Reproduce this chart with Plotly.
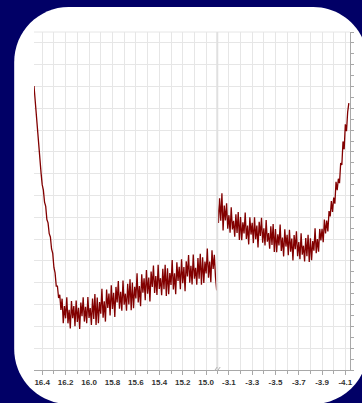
import plotly.graph_objects as go

# ---------------- data ----------------
left_x = [16.47, 16.46, 16.45, 16.44, 16.43, 16.42, 16.41, 16.40, 16.39, 16.38,
          16.37, 16.36, 16.35, 16.34, 16.33, 16.32, 16.31, 16.30, 16.29, 16.28,
          16.27, 16.26, 16.25, 16.24, 16.23, 16.22, 16.21, 16.20, 16.19, 16.18,
          16.17, 16.16, 16.15, 16.14, 16.13, 16.12, 16.11, 16.10, 16.09, 16.08,
          16.07, 16.06, 16.05, 16.04, 16.03, 16.02, 16.01, 16.00, 15.99, 15.98,
          15.97, 15.96, 15.95, 15.94, 15.93, 15.92, 15.91, 15.90, 15.89, 15.88,
          15.87, 15.86, 15.85, 15.84, 15.83, 15.82, 15.81, 15.80, 15.79, 15.78,
          15.77, 15.76, 15.75, 15.74, 15.73, 15.72, 15.71, 15.70, 15.69, 15.68,
          15.67, 15.66, 15.65, 15.64, 15.63, 15.62, 15.61, 15.60, 15.59, 15.58,
          15.57, 15.56, 15.55, 15.54, 15.53, 15.52, 15.51, 15.50, 15.49, 15.48,
          15.47, 15.46, 15.45, 15.44, 15.43, 15.42, 15.41, 15.40, 15.39, 15.38,
          15.37, 15.36, 15.35, 15.34, 15.33, 15.32, 15.31, 15.30, 15.29, 15.28,
          15.27, 15.26, 15.25, 15.24, 15.23, 15.22, 15.21, 15.20, 15.19, 15.18,
          15.17, 15.16, 15.15, 15.14, 15.13, 15.12, 15.11, 15.10, 15.09, 15.08,
          15.07, 15.06, 15.05, 15.04, 15.03, 15.02, 15.01, 15.00, 14.99, 14.98,
          14.97, 14.96, 14.95, 14.94, 14.93, 14.92, 14.91]
left_y = [13.02, 12.30, 11.75, 10.95, 10.40, 9.55, 9.05, 8.50, 8.25, 7.70,
          7.50, 6.90, 6.75, 6.25, 6.10, 5.55, 5.35, 4.70, 4.45, 3.85,
          3.85, 3.30, 3.45, 2.75, 3.27, 2.15, 2.93, 2.37, 3.34, 2.14,
          2.76, 1.91, 3.16, 2.38, 2.93, 2.01, 3.19, 2.20, 2.85, 1.88,
          3.09, 2.47, 3.33, 2.22, 2.90, 2.15, 3.35, 2.39, 2.84, 2.06,
          3.28, 2.34, 3.48, 2.06, 3.32, 2.14, 3.12, 2.58, 3.73, 2.40,
          3.15, 2.22, 3.69, 2.84, 3.51, 2.50, 3.89, 2.80, 3.54, 2.43,
          3.81, 3.10, 4.08, 2.81, 3.59, 2.72, 4.10, 2.99, 3.50, 2.72,
          3.95, 3.01, 4.16, 2.74, 4.01, 2.83, 3.82, 3.28, 4.43, 3.10,
          3.85, 2.92, 4.39, 3.54, 4.21, 3.20, 4.59, 3.50, 4.24, 3.14,
          4.51, 3.81, 4.79, 3.53, 4.31, 3.44, 4.82, 3.72, 4.21, 3.43,
          4.64, 3.70, 4.83, 3.40, 4.66, 3.47, 4.45, 3.90, 5.04, 3.69,
          4.43, 3.48, 4.94, 4.08, 4.73, 3.71, 5.08, 3.98, 4.72, 3.61,
          4.99, 4.29, 5.27, 4.00, 4.78, 3.92, 5.29, 4.19, 4.69, 3.91,
          5.13, 4.19, 5.33, 3.91, 5.17, 3.99, 4.97, 4.43, 5.57, 4.23,
          4.97, 4.03, 5.49, 4.63, 5.28, 4.26, 3.65]

right_x = [-3.00, -3.01, -3.02, -3.03, -3.04, -3.05, -3.06, -3.07, -3.08, -3.09,
           -3.10, -3.11, -3.12, -3.13, -3.14, -3.15, -3.16, -3.17, -3.18, -3.19,
           -3.20, -3.21, -3.22, -3.23, -3.24, -3.25, -3.26, -3.27, -3.28, -3.29,
           -3.30, -3.31, -3.32, -3.33, -3.34, -3.35, -3.36, -3.37, -3.38, -3.39,
           -3.40, -3.41, -3.42, -3.43, -3.44, -3.45, -3.46, -3.47, -3.48, -3.49,
           -3.50, -3.51, -3.52, -3.53, -3.54, -3.55, -3.56, -3.57, -3.58, -3.59,
           -3.60, -3.61, -3.62, -3.63, -3.64, -3.65, -3.66, -3.67, -3.68, -3.69,
           -3.70, -3.71, -3.72, -3.73, -3.74, -3.75, -3.76, -3.77, -3.78, -3.79,
           -3.80, -3.81, -3.82, -3.83, -3.84, -3.85, -3.86, -3.87, -3.88, -3.89,
           -3.90, -3.91, -3.92, -3.93, -3.94, -3.95, -3.96, -3.97, -3.98, -3.99,
           -4.00, -4.01, -4.02, -4.03, -4.04, -4.05, -4.06, -4.07, -4.08, -4.09,
           -4.10, -4.11, -4.12, -4.13]
right_y = [7.70, 6.74, 7.88, 6.85, 8.10, 6.40, 7.54, 6.86, 7.65, 6.48,
           7.10, 6.30, 7.46, 6.45, 6.84, 6.11, 7.14, 6.28, 7.24, 5.96,
           7.02, 5.95, 6.77, 6.26, 7.22, 6.01, 6.62, 5.76, 7.00, 6.21,
           6.75, 5.82, 7.00, 6.00, 6.62, 5.62, 6.80, 6.15, 6.98, 5.84,
           6.50, 5.71, 6.88, 5.88, 6.28, 5.56, 6.59, 5.73, 6.69, 5.41,
           6.47, 5.40, 6.22, 5.71, 6.67, 5.46, 6.07, 5.21, 6.45, 5.66,
           6.20, 5.26, 6.43, 5.42, 6.03, 5.02, 6.19, 5.54, 6.36, 5.22,
           5.87, 5.08, 6.27, 5.29, 5.70, 4.98, 6.05, 5.22, 6.20, 4.95,
           6.04, 5.03, 5.91, 5.47, 6.50, 5.36, 6.01, 5.42, 6.47, 5.94,
           6.48, 5.86, 6.90, 6.26, 6.85, 6.35, 7.29, 7.04, 7.75, 7.25,
           7.91, 7.63, 8.63, 8.25, 8.77, 8.57, 9.49, 9.40, 10.48, 10.12,
           11.27, 10.95, 11.83, 12.24]

left_tickvals = [16.4, 16.2, 16.0, 15.8, 15.6, 15.4, 15.2, 15.0]
left_ticktext = ["16.4", "16.2", "16.0", "15.8", "15.6", "15.4", "15.2", "15.0"]
right_tickvals = [-3.1, -3.3, -3.5, -3.7, -3.9, -4.1]
right_ticktext = ["-3.1", "-3.3", "-3.5", "-3.7", "-3.9", "-4.1"]

# ---------------- styling ----------------
W, H = 362, 403
ML, MR, MT, MB = 34, 9, 32, 33
PW, PH = W - ML - MR, H - MT - MB
SPLIT = 185 / PW

NAVY = "#010066"
LINE = "#820000"
GRID = "#e6e6e6"
AX = "#a8a8a8"


def px(x):
    return (x - ML) / PW


def py(y):
    return (H - MB - y) / PH


# rounded white card (pixel geometry converted to paper coords)
cl, cr, ct, cb, rad = px(14), px(371), py(7), py(404), 55
rx, ry = rad / PW, rad / PH
k = 0.5523
card = (
    f"M {cl+rx},{ct} L {cr-rx},{ct} "
    f"C {cr-rx+k*rx},{ct} {cr},{ct-ry+k*ry} {cr},{ct-ry} "
    f"L {cr},{cb+ry} "
    f"C {cr},{cb+ry-k*ry} {cr-rx+k*rx},{cb} {cr-rx},{cb} "
    f"L {cl+rx},{cb} "
    f"C {cl+rx-k*rx},{cb} {cl},{cb+ry-k*ry} {cl},{cb+ry} "
    f"L {cl},{ct-ry} "
    f"C {cl},{ct-ry+k*ry} {cl+rx-k*rx},{ct} {cl+rx},{ct} Z"
)

fig = go.Figure()
fig.add_trace(go.Scatter(x=left_x, y=left_y, mode="lines", xaxis="x", yaxis="y",
                         line=dict(color=LINE, width=1.3), hoverinfo="skip"))
fig.add_trace(go.Scatter(x=right_x, y=right_y, mode="lines", xaxis="x2", yaxis="y",
                         line=dict(color=LINE, width=1.3), hoverinfo="skip"))

tickfont = dict(family="Liberation Sans", size=8, color="#333333", weight="bold")

common_x = dict(
    showgrid=True, gridcolor=GRID, gridwidth=1, zeroline=False,
    showline=True, linecolor=AX, linewidth=1,
    ticks="outside", ticklen=4, tickcolor=AX, tickwidth=1,
    tickfont=tickfont, tickmode="array",
    minor=dict(dtick=0.1, tick0=0, ticks="outside", ticklen=3, tickcolor=AX,
               showgrid=True, gridcolor=GRID, gridwidth=1),
    fixedrange=True, anchor="y",
)

fig.update_layout(
    width=W, height=H,
    margin=dict(l=ML, r=MR, t=MT, b=MB, pad=0),
    paper_bgcolor=NAVY, plot_bgcolor="white",
    showlegend=False,
    xaxis=dict(domain=[0, SPLIT], range=[16.47, 14.905],
               tickvals=left_tickvals, ticktext=left_ticktext, **common_x),
    xaxis2=dict(domain=[SPLIT, 1], range=[-3.0, -4.14],
                tickvals=right_tickvals, ticktext=right_ticktext, **common_x),
    yaxis=dict(range=[0, 15.5], dtick=1, tick0=0, anchor="x2", side="right",
               showgrid=True, gridcolor=GRID, zeroline=False,
               showline=True, linecolor=AX, linewidth=1,
               ticks="outside", ticklen=3, tickcolor=AX,
               showticklabels=False,
               minor=dict(dtick=0.5, ticks="outside", ticklen=3, tickcolor=AX,
                          showgrid=False),
               fixedrange=True),
    shapes=[
        dict(type="path", xref="paper", yref="paper", path=card,
             fillcolor="white", line=dict(width=0), layer="below"),
        dict(type="line", xref="paper", yref="paper", x0=0, x1=1, y0=1, y1=1,
             line=dict(color=GRID, width=1)),
        dict(type="line", xref="paper", yref="paper", x0=SPLIT, x1=SPLIT, y0=0, y1=1,
             line=dict(color="#e0e0e0", width=2)),
        dict(type="line", xref="paper", yref="paper",
             x0=px(216), x1=px(219), y0=py(371), y1=py(367),
             line=dict(color="#b0b0b0", width=1)),
        dict(type="line", xref="paper", yref="paper",
             x0=px(219), x1=px(222), y0=py(371), y1=py(367),
             line=dict(color="#b0b0b0", width=1)),
    ],
)

fig.write_html("out.html")
